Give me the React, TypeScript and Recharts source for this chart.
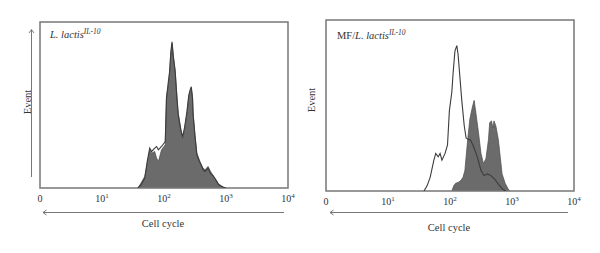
import React from "react";
import { Area, Line, XAxis, YAxis, ReferenceArea, ComposedChart } from "recharts";

// x positions are in log decades (0 => "0", 1 => 10^1, ...), values are fraction of full scale
const decadeTicks = [0, 1, 2, 3, 4];
const tickLabels = ["0", "10|1", "10|2", "10|3", "10|4"];

const leftX = [1.58, 1.63, 1.69, 1.73, 1.77, 1.8, 1.85, 1.88, 1.91, 1.96, 2.02, 2.04, 2.07, 2.09, 2.11, 2.13, 2.15, 2.18, 2.21, 2.23, 2.27, 2.3, 2.33, 2.37, 2.4, 2.42, 2.44, 2.46, 2.47, 2.5, 2.53, 2.57, 2.6, 2.63, 2.66, 2.69, 2.71, 2.75, 2.8, 2.84, 2.88, 2.92, 2.96, 3.0];
const leftFill = [0, 0.03, 0.07, 0.15, 0.23, 0.21, 0.22, 0.18, 0.16, 0.23, 0.26, 0.55, 0.62, 0.69, 0.8, 0.87, 0.8, 0.71, 0.55, 0.45, 0.36, 0.3, 0.35, 0.45, 0.55, 0.58, 0.6, 0.55, 0.45, 0.32, 0.21, 0.17, 0.14, 0.12, 0.11, 0.12, 0.13, 0.1, 0.07, 0.05, 0.025, 0.015, 0.005, 0];
const leftLine = [0, 0.02, 0.06, 0.16, 0.24, 0.22, 0.24, 0.25, 0.23, 0.25, 0.28, 0.54, 0.64, 0.7, 0.82, 0.88, 0.79, 0.7, 0.53, 0.44, 0.35, 0.31, 0.36, 0.46, 0.56, 0.59, 0.61, 0.54, 0.44, 0.31, 0.2, 0.16, 0.14, 0.11, 0.1, 0.11, 0.12, 0.09, 0.07, 0.045, 0.02, 0.01, 0.004, 0];

const rightLineX = [1.58, 1.63, 1.68, 1.74, 1.77, 1.81, 1.84, 1.87, 1.92, 1.96, 1.99, 2.03, 2.05, 2.08, 2.11, 2.13, 2.15, 2.19, 2.23, 2.26, 2.3, 2.33, 2.38, 2.44, 2.5, 2.55, 2.6, 2.66, 2.72, 2.78, 2.85, 2.9];
const rightLine = [0, 0.03, 0.08, 0.18, 0.22, 0.2, 0.22, 0.18, 0.22, 0.27, 0.47, 0.58, 0.69, 0.82, 0.85, 0.8, 0.71, 0.53, 0.38, 0.31, 0.3, 0.3, 0.26, 0.2, 0.12, 0.09, 0.1, 0.09, 0.07, 0.04, 0.01, 0];
const rightFillX = [2.03, 2.06, 2.09, 2.13, 2.17, 2.21, 2.24, 2.28, 2.32, 2.36, 2.39, 2.42, 2.46, 2.5, 2.54, 2.58, 2.62, 2.64, 2.67, 2.69, 2.71, 2.74, 2.78, 2.81, 2.84, 2.89, 2.94, 2.97];
const rightFill = [0, 0.03, 0.045, 0.05, 0.06, 0.08, 0.12, 0.28, 0.42, 0.49, 0.53, 0.45, 0.34, 0.22, 0.16, 0.19, 0.3, 0.4, 0.41, 0.37, 0.41, 0.38, 0.3, 0.2, 0.1, 0.045, 0.01, 0];

type Row = { x: number; fill?: number; line?: number };

function merge(fx: number[], fv: number[], lx: number[], lv: number[]): Row[] {
  const map = new Map<number, Row>();
  fx.forEach((x, i) => {
    const r = map.get(x) || { x };
    r.fill = fv[i];
    map.set(x, r);
  });
  lx.forEach((x, i) => {
    const r = map.get(x) || { x };
    r.line = lv[i];
    map.set(x, r);
  });
  return Array.from(map.values()).sort((a, b) => a.x - b.x);
}

const leftData = merge(leftX, leftFill, leftX, leftLine);
const rightData = merge(rightFillX, rightFill, rightLineX, rightLine);

const FONT = "'Liberation Serif', 'DejaVu Serif', serif";
const GRAY = "#6b6b6b";
const BOX = "#777";

const Tick = (props: any) => {
  const { x, y, payload } = props;
  const lbl = tickLabels[decadeTicks.indexOf(payload.value)] || "";
  const [base, sup] = lbl.split("|");
  return (
    <text x={x} y={y + 6} textAnchor="middle" fontFamily={FONT} fontSize={10} fill="#333">
      <tspan>{base}</tspan>
      {sup ? (
        <tspan fontSize={7} dy={-4}>
          {sup}
        </tspan>
      ) : null}
    </text>
  );
};

function Panel({ data, margin }: { data: Row[]; margin: any }) {
  return (
    <ComposedChart width={300} height={253} data={data} margin={margin}>
      <XAxis
        dataKey="x"
        type="number"
        domain={[0, 4]}
        ticks={decadeTicks}
        tick={<Tick />}
        tickLine={false}
        axisLine={false}
        height={30}
        interval={0}
        allowDataOverflow
      />
      <YAxis hide domain={[0, 1]} allowDataOverflow />
      <Area
        dataKey="fill"
        type="linear"
        fill={GRAY}
        fillOpacity={1}
        stroke="#4a4a4a"
        strokeWidth={0.7}
        connectNulls
        isAnimationActive={false}
        dot={false}
        activeDot={false}
      />
      <Line
        dataKey="line"
        type="linear"
        stroke="#3c3c3c"
        strokeWidth={1.1}
        connectNulls
        isAnimationActive={false}
        dot={false}
        activeDot={false}
      />
      <ReferenceArea x1={0} x2={4} y1={0} y2={1} fill="none" stroke={BOX} strokeWidth={1.5} ifOverflow="visible" />
    </ComposedChart>
  );
}

export default function App() {
  return (
    <div style={{ position: "absolute", left: 0, top: 0, width: 600, height: 253, background: "#fff" }}>
      <div style={{ position: "absolute", left: 0, top: 0 }}>
        <Panel data={leftData} margin={{ top: 22, right: 12, left: 40, bottom: 35 }} />
      </div>
      <div style={{ position: "absolute", left: 300, top: 0 }}>
        <Panel data={rightData} margin={{ top: 20, right: 26, left: 26, bottom: 32 }} />
      </div>
      <svg width={600} height={253} style={{ position: "absolute", left: 0, top: 0, pointerEvents: "none" }}>
        <g fontFamily={FONT} fill="#333">
          <text x={50} y={38} fontSize={10.5} fontStyle="italic">
            L. lactis<tspan fontSize={7.5} dy={-4}>IL-10</tspan>
          </text>
          <text x={337} y={39} fontSize={10.5}>
            MF/<tspan fontStyle="italic">L. lactis</tspan>
            <tspan fontSize={7.5} fontStyle="italic" dy={-4}>IL-10</tspan>
          </text>
          <text x={0} y={0} fontSize={10.5} textAnchor="middle" transform="translate(28,102) rotate(-90)" dy={3}>
            Event
          </text>
          <text x={0} y={0} fontSize={10.5} textAnchor="middle" transform="translate(312,100) rotate(-90)" dy={3}>
            Event
          </text>
          <text x={163} y={227} fontSize={10.5} textAnchor="middle">Cell cycle</text>
          <text x={449} y={231} fontSize={10.5} textAnchor="middle">Cell cycle</text>
        </g>
        <g stroke="#777" strokeWidth={1} fill="none">
          <line x1={31.5} y1={30} x2={31.5} y2={177} />
          <polyline points="29,33 31.5,29.5 34,33" />
          <line x1={43} y1={212.5} x2={284} y2={212.5} />
          <polyline points="46.5,210 43,212.5 46.5,215" />
          <line x1={330} y1={212.5} x2={568} y2={212.5} />
          <polyline points="333.5,210 330,212.5 333.5,215" />
        </g>
      </svg>
    </div>
  );
}
